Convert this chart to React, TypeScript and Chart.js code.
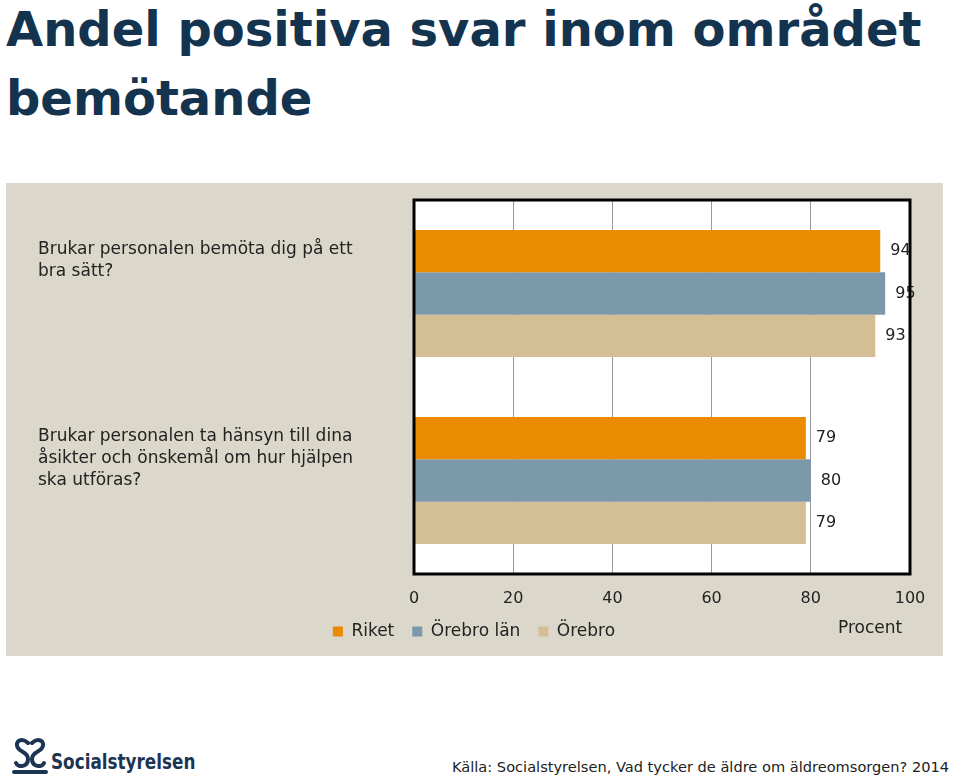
import React, { useEffect, useRef } from "react";
import { Chart, registerables } from "chart.js";

Chart.register(...registerables);

const categories: string[][] = [
  ["Brukar personalen bemöta dig på ett", "bra sätt?", "", "", ""],
  ["Brukar personalen ta hänsyn till dina", "åsikter och önskemål om hur hjälpen", "ska utföras?", "", ""],
];
const seriesNames = ["Riket", "Örebro län", "Örebro"];
const riket = [94, 79];
const orebroLan = [95, 80];
const orebro = [93, 79];
const xTicks = [0, 20, 40, 60, 80, 100];

const COLORS = ["#ea8b00", "#7c98ab", "#d3be96"];
const FONT = "'DejaVu Sans', sans-serif";
const TEXT = "#222222";

const plotFrame = {
  id: "plotFrame",
  beforeDraw(chart: any) {
    const { ctx, chartArea: a } = chart;
    ctx.save();
    ctx.fillStyle = "#ffffff";
    ctx.fillRect(a.left, a.top, a.right - a.left, a.bottom - a.top);
    ctx.restore();
  },
  afterDraw(chart: any) {
    const { ctx, chartArea: a } = chart;
    ctx.save();
    ctx.strokeStyle = "#000000";
    ctx.lineWidth = 3;
    ctx.strokeRect(a.left, a.top, a.right - a.left, a.bottom - a.top);
    ctx.restore();
  },
};

const valueLabels = {
  id: "valueLabels",
  afterDatasetsDraw(chart: any) {
    const { ctx } = chart;
    ctx.save();
    ctx.font = `16px ${FONT}`;
    ctx.fillStyle = TEXT;
    ctx.textAlign = "left";
    ctx.textBaseline = "middle";
    chart.data.datasets.forEach((ds: any, i: number) => {
      const meta = chart.getDatasetMeta(i);
      meta.data.forEach((el: any, j: number) => {
        ctx.fillText(String(ds.data[j]), el.x + 10, el.y);
      });
    });
    ctx.restore();
  },
};

function BarChart() {
  const ref = useRef<HTMLCanvasElement | null>(null);
  useEffect(() => {
    if (!ref.current) return;
    const chart = new Chart(ref.current, {
      type: "bar",
      data: {
        labels: categories,
        datasets: [riket, orebroLan, orebro].map((d, i) => ({
          label: seriesNames[i],
          data: d,
          backgroundColor: COLORS[i],
          borderWidth: 0,
          categoryPercentage: 0.68,
          barPercentage: 1,
        })),
      },
      options: {
        indexAxis: "y",
        animation: false,
        responsive: true,
        maintainAspectRatio: false,
        layout: { padding: { left: 32, right: 33, top: 17, bottom: 6 } },
        scales: {
          x: {
            min: 0,
            max: 100,
            afterBuildTicks: (s: any) => {
              s.ticks = xTicks.map((v) => ({ value: v }));
            },
            afterFit: (s: any) => {
              s.height = 31;
            },
            ticks: { color: TEXT, font: { family: FONT, size: 16 }, padding: 15 },
            grid: { color: "#9a9a9a", lineWidth: 1, drawTicks: false },
            border: { display: false },
          },
          y: {
            afterFit: (s: any) => {
              s.width = 376;
              s.paddingTop = 0;
              s.paddingBottom = 0;
            },
            ticks: {
              crossAlign: "far",
              color: TEXT,
              font: { family: FONT, size: 17, lineHeight: 1.3 },
            },
            grid: { display: false },
            border: { display: false },
          },
        },
        plugins: {
          legend: {
            position: "bottom",
            labels: {
              boxWidth: 10,
              boxHeight: 10,
              color: TEXT,
              font: { family: FONT, size: 17 },
              padding: 18,
            },
          },
          tooltip: { enabled: false },
        },
      },
      plugins: [plotFrame, valueLabels],
    } as any);
    return () => chart.destroy();
  }, []);
  return <canvas ref={ref} />;
}

function Logo() {
  return (
    <div style={{ position: "absolute", left: 10, top: 737, display: "flex", alignItems: "center" }}>
      <svg width="40" height="38" viewBox="0 0 40 38">
        <g fill="none" stroke="#1c3553" strokeWidth="4" strokeLinecap="round">
          <path d="M18 6 C 12 0, 4 4, 8 11 C 11 16, 18 15, 18 22 C 18 30, 8 31, 6 26" />
          <path d="M22 6 C 28 0, 36 4, 32 11 C 29 16, 22 15, 22 22 C 22 30, 32 31, 34 26" />
          <path d="M4 35 L 36 35" />
        </g>
      </svg>
      <span
        style={{
          display: "inline-block",
          fontFamily: "'Liberation Sans Narrow', 'DejaVu Sans Condensed', sans-serif",
          fontWeight: 700,
          fontSize: 22,
          color: "#1c3553",
          marginLeft: 1,
          marginTop: 10,
          transform: "scaleX(0.85)",
          transformOrigin: "left center",
          whiteSpace: "nowrap",
        }}
      >
        Socialstyrelsen
      </span>
    </div>
  );
}

export default function App() {
  return (
    <div
      style={{
        position: "absolute",
        left: 0,
        top: 0,
        width: 960,
        height: 783,
        overflow: "hidden",
        background: "#ffffff",
        fontFamily: FONT,
      }}
    >
      <div
        style={{
          position: "absolute",
          left: 6,
          top: -5,
          fontFamily: FONT,
          fontWeight: 700,
          fontSize: 48,
          lineHeight: "69px",
          color: "#14334f",
          width: 954,
          whiteSpace: "nowrap",
        }}
      >
        Andel positiva svar inom området
        <br />
        bemötande
      </div>
      <div
        style={{
          position: "absolute",
          left: 6,
          top: 183,
          width: 937,
          height: 473,
          background: "#dbd8cb",
        }}
      >
        <BarChart />
        <div
          style={{
            position: "absolute",
            left: 832,
            top: 434,
            fontSize: 17,
            color: TEXT,
            fontFamily: FONT,
          }}
        >
          Procent
        </div>
      </div>
      <Logo />
      <div
        style={{
          position: "absolute",
          left: 452,
          top: 758,
          fontSize: 14.6,
          color: TEXT,
          fontFamily: FONT,
          whiteSpace: "nowrap",
        }}
      >
        Källa: Socialstyrelsen, Vad tycker de äldre om äldreomsorgen? 2014
      </div>
    </div>
  );
}
